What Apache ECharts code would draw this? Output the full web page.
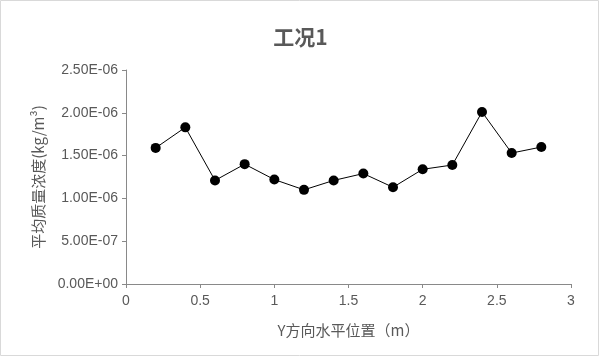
<!DOCTYPE html>
<html><head><meta charset="utf-8">
<script src="https://cdn.jsdelivr.net/npm/echarts@6/dist/echarts.min.js"></script>
<style>html,body{margin:0;padding:0;background:#fff}#c{width:601px;height:363px}</style>
</head><body><div id="c"></div>
<script>
var titleText = '工况1';
var xName = 'Y方向水平位置（m）';
var yName = '平均质量浓度(kg/m³)';
var xValues = [0.2, 0.4, 0.6, 0.8, 1.0, 1.2, 1.4, 1.6, 1.8, 2.0, 2.2, 2.4, 2.6, 2.8];
var yValues = [1.59e-6, 1.83e-6, 1.21e-6, 1.40e-6, 1.22e-6, 1.10e-6, 1.21e-6, 1.29e-6, 1.13e-6, 1.34e-6, 1.39e-6, 2.01e-6, 1.53e-6, 1.60e-6];

function sci(v) {
  if (Math.abs(v) < 1e-15) return '0.00E+00';
  var e = Math.floor(Math.log10(Math.abs(v)) + 1e-9);
  var m = v / Math.pow(10, e);
  var s = e < 0 ? '-' : '+';
  var ae = Math.abs(e);
  return m.toFixed(2) + 'E' + s + (ae < 10 ? '0' : '') + ae;
}
var data = xValues.map(function (x, i) { return [x, yValues[i]]; });
var chart = echarts.init(document.getElementById('c'));
var gray = '#595959';
chart.setOption({
  animation: false,
  title: { text: titleText, left: 'center', top: 22, textStyle: { fontFamily: 'Noto Sans CJK SC', fontSize: 21, fontWeight: 'bold', color: gray } },
  graphic: [{ type: 'rect', shape: { x: 0.5, y: 0.5, width: 598, height: 355 }, style: { fill: 'none', stroke: '#d9d9d9', lineWidth: 1 } }],
  grid: { left: 126, right: 30, top: 70, bottom: 79 },
  xAxis: {
    type: 'value', min: 0, max: 3, interval: 0.5,
    name: xName, nameLocation: 'middle', nameGap: 39,
    nameTextStyle: { fontFamily: 'Noto Sans CJK SC', fontSize: 15, color: gray },
    axisLine: { lineStyle: { color: '#898989' } },
    axisTick: { show: true, inside: false, length: 4, lineStyle: { color: '#898989' } },
    axisLabel: { color: gray, fontSize: 14, fontFamily: 'Liberation Sans', margin: 10 },
    splitLine: { show: false }
  },
  yAxis: {
    type: 'value', min: 0, max: 2.5e-6, interval: 5e-7,
    name: yName, nameLocation: 'middle', nameGap: 80,
    nameTextStyle: { fontFamily: 'Noto Sans CJK SC', fontSize: 15, color: gray },
    axisLine: { show: true, lineStyle: { color: '#898989' } },
    axisTick: { show: true, inside: false, length: 4, lineStyle: { color: '#898989' } },
    axisLabel: { color: gray, fontSize: 14, fontFamily: 'Liberation Sans', margin: 8, formatter: sci },
    splitLine: { show: false }
  },
  series: [{
    type: 'line', data: data, symbol: 'circle', symbolSize: 10,
    lineStyle: { color: '#000', width: 1 },
    itemStyle: { color: '#000' }
  }]
});
</script></body></html>
